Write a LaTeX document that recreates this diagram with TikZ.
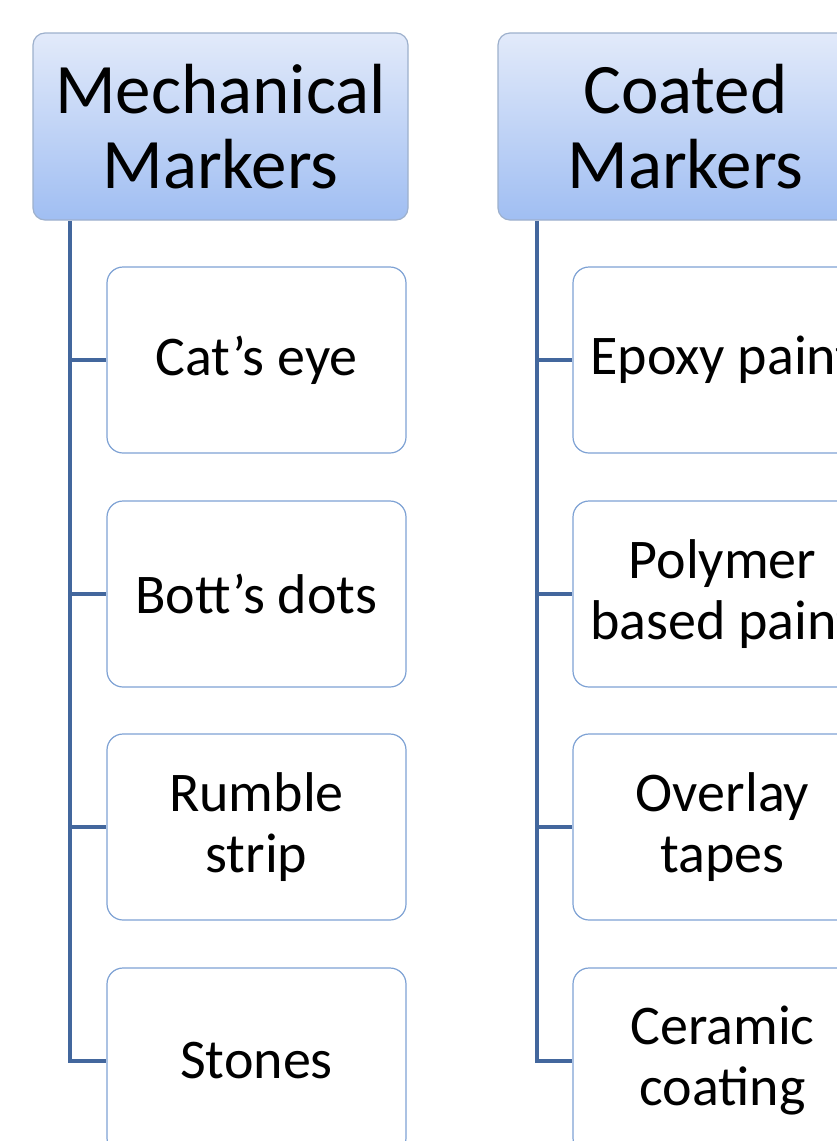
\documentclass[tikz,border=0pt]{standalone}
\usepackage{fontspec}
\setmainfont{Carlito}
\usetikzlibrary{positioning}
\definecolor{hdtop}{HTML}{E2EAFA}
\definecolor{hdbot}{HTML}{A0BEF2}
\definecolor{hdline}{HTML}{9DB0CC}
\definecolor{chline}{HTML}{7EA2D4}
\definecolor{conn}{HTML}{43679D}
\tikzset{
  header/.style={draw=hdline, line width=1.2pt, rounded corners=12pt, top color=hdtop, bottom color=hdbot,
    minimum width=375pt, minimum height=187pt, align=center, inner sep=0pt,
    font=\fontsize{71}{75}\selectfont},
  child/.style={draw=chline, line width=1.2pt, rounded corners=16pt, fill=white,
    minimum width=299pt, minimum height=186pt, align=center, inner sep=0pt,
    font=\fontsize{56}{61}\selectfont},
  connector/.style={draw=conn, line width=3.5pt}
}
\begin{document}
\begin{tikzpicture}[x=1pt,y=-1pt]
\useasboundingbox (0,0) rectangle (837,1141);
\clip (0,0) rectangle (837,1141);
\node[header] (h1) at (220.5,126.5) {Mechanical\\Markers};
\node[header] (h2) at (685.5,126.5) {Coated\\Markers};
\node[child] (a1) at (256.5,360) {Cat’s eye};
\node[child] (a2) at (256.5,594) {Bott’s dots};
\node[child] (a3) at (256.5,827) {Rumble\\strip};
\node[child] (a4) at (256.5,1061) {Stones};
\node[child] (b1) at (722.5,360) {Epoxy paint};
\node[child] (b2) at (722.5,594) {Polymer\\based paint};
\node[child] (b3) at (722.5,827) {Overlay\\tapes};
\node[child] (b4) at (722.5,1061) {Ceramic\\coating};
\coordinate (s1) at (70,0);
\coordinate (s2) at (537,0);
\draw[connector] (h1.south -| s1) |- (a4.west);
\foreach \n in {a1,a2,a3} \draw[connector] (\n.west -| s1) -- (\n.west);
\draw[connector] (h2.south -| s2) |- (b4.west);
\foreach \n in {b1,b2,b3} \draw[connector] (\n.west -| s2) -- (\n.west);
\end{tikzpicture}
\end{document}
